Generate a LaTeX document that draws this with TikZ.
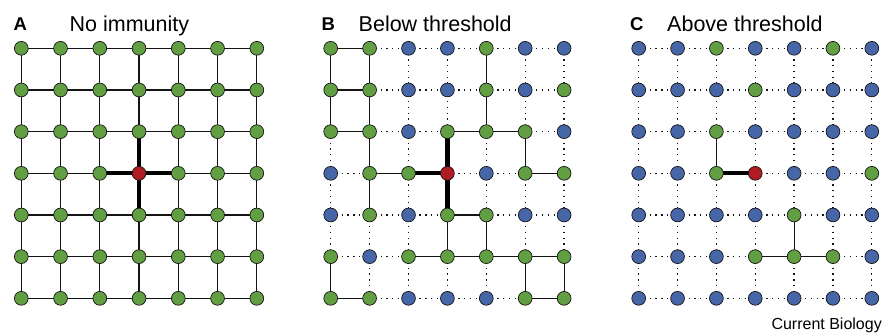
\documentclass[tikz,border=0pt]{standalone}
\usepackage{fontspec}
\setmainfont{Liberation Sans}
\usetikzlibrary{backgrounds}
\definecolor{cgreen}{RGB}{98,158,66}
\definecolor{cblue}{RGB}{70,102,168}
\definecolor{cred}{RGB}{176,28,36}
\definecolor{cedge}{RGB}{20,20,20}
\tikzset{
  site/.style={circle,draw=cedge,line width=0.7pt,minimum size=13.8pt,inner sep=0pt},
  sitecol-g/.style={fill=cgreen},
  sitecol-b/.style={fill=cblue},
  sitecol-r/.style={fill=cred},
  solidedge/.style={draw=cedge,line width=1.2pt},
  thickedge/.style={draw=black,line width=4.2pt},
  dotedge/.style={draw=cedge,line width=1.3pt,dash pattern=on 1.3pt off 4.5pt,dash phase=0.65pt},
  panelletter/.style={anchor=base west,inner sep=0pt,font=\fontsize{18.5}{22}\selectfont\bfseries},
  paneltitle/.style={anchor=base west,inner sep=0pt,font=\fontsize{21.5}{24}\selectfont},
}
\newcommand\mkgrid[4]{%
  \foreach \rowl [count=\r from 0] in {#4} {
    \foreach \c [count=\k from 0] in \rowl {
      \expandafter\xdef\csname gc#1-\r-\k\endcsname{\c}
      \node[site,sitecol-\c] (#1-\r-\k) at ({#2+\k*#3},{48.3+\r*41.67}) {};
    }
  }
  \begin{scope}[on background layer]
  \foreach \r in {0,...,6} {
    \foreach \k in {0,...,5} {
      \pgfmathtruncatemacro\kk{\k+1}
      \edef\ca{\csname gc#1-\r-\k\endcsname}
      \edef\cb{\csname gc#1-\r-\kk\endcsname}
      \def\es{solidedge}
      \if r\ca\def\es{thickedge}\fi
      \if r\cb\def\es{thickedge}\fi
      \if b\ca\def\es{dotedge}\fi
      \if b\cb\def\es{dotedge}\fi
      \path[\es] (#1-\r-\k.center) -- (#1-\r-\kk.center);
    }
  }
  \foreach \k in {0,...,6} {
    \foreach \r in {0,...,5} {
      \pgfmathtruncatemacro\rr{\r+1}
      \edef\ca{\csname gc#1-\r-\k\endcsname}
      \edef\cb{\csname gc#1-\rr-\k\endcsname}
      \def\es{solidedge}
      \if r\ca\def\es{thickedge}\fi
      \if r\cb\def\es{thickedge}\fi
      \if b\ca\def\es{dotedge}\fi
      \if b\cb\def\es{dotedge}\fi
      \path[\es] (#1-\r-\k.center) -- (#1-\rr-\k.center);
    }
  }
  \end{scope}
}
\begin{document}
\begin{tikzpicture}[x=1pt,y=-1pt]
\useasboundingbox (0,0) rectangle (891,333);
\mkgrid{A}{21.3}{39.25}{{g,g,g,g,g,g,g},{g,g,g,g,g,g,g},{g,g,g,g,g,g,g},{g,g,g,r,g,g,g},{g,g,g,g,g,g,g},{g,g,g,g,g,g,g},{g,g,g,g,g,g,g}}
\mkgrid{B}{330.7}{38.9}{{g,g,b,b,g,b,b},{g,g,b,b,g,b,g},{g,g,b,g,g,g,b},{b,g,g,r,b,g,g},{b,g,b,g,g,b,b},{g,b,g,g,g,g,g},{g,g,b,b,b,g,g}}
\mkgrid{C}{638.7}{38.85}{{b,b,g,b,b,g,b},{b,b,b,g,b,b,b},{b,b,g,b,b,b,b},{b,b,g,r,b,b,g},{b,b,b,b,g,b,b},{b,b,b,g,g,g,b},{b,b,b,b,b,b,b}}
\node[panelletter] (la) at (13.5,30) {A};
\node[paneltitle] (ta) at (69.5,31.5) {No immunity};
\node[panelletter] (lb) at (321.5,30) {B};
\node[paneltitle] (tb) at (358.5,31.5) {Below threshold};
\node[panelletter] (lc) at (630,30) {C};
\node[paneltitle] (tc) at (667,31.5) {Above threshold};
\node[anchor=base east,inner sep=0pt,font=\fontsize{16}{18}\selectfont] (cb) at (882,329) {Current Biology};
\end{tikzpicture}
\end{document}
